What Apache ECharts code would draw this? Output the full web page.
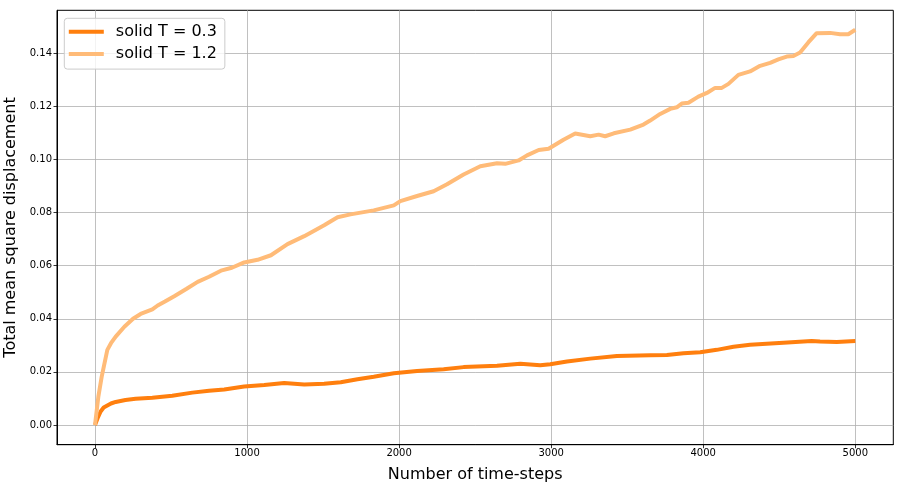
<!DOCTYPE html>
<html><head><meta charset="utf-8">
<script src="https://cdn.jsdelivr.net/npm/echarts@6/dist/echarts.min.js"></script>
<style>html,body{margin:0;padding:0;background:#fff}#c{width:903px;height:488px}</style>
</head><body><div id="c"></div>
<script>
const seriesNames = ['solid T = 0.3', 'solid T = 1.2'];
const stepsLow = [0,20,37,57,70,105,136,200,267,377,508,640,750,850,981,1113,1244,1376,1507,1616,1726,1833,1965,2118,2293,2424,2644,2797,2928,2994,3104,3257,3432,3651,3761,3870,3980,4089,4199,4308,4527,4713,4768,4878,5000];
const msdLow = [0,0.0030,0.0051,0.0066,0.0072,0.0081,0.0087,0.0094,0.0099,0.0103,0.0110,0.0122,0.0129,0.0134,0.0145,0.0151,0.0158,0.0153,0.0155,0.0161,0.0172,0.0182,0.0195,0.0203,0.0210,0.0218,0.0223,0.0231,0.0225,0.0229,0.0239,0.0250,0.0260,0.0263,0.0264,0.0270,0.0274,0.0283,0.0295,0.0302,0.0310,0.0316,0.0314,0.0313,0.0316];
const stepsHigh = [0,22,44,81,105,136,193,250,300,377,412,460,521,600,675,750,828,900,981,1069,1157,1266,1376,1507,1595,1680,1833,1965,2008,2118,2227,2315,2424,2534,2644,2698,2786,2841,2918,2983,3081,3158,3257,3312,3355,3412,3520,3607,3651,3717,3783,3826,3859,3903,3968,4024,4078,4122,4166,4231,4308,4374,4440,4494,4549,4593,4637,4691,4746,4834,4900,4954,5000];
const msdHigh = [0,0.0107,0.0182,0.0283,0.0308,0.0333,0.0370,0.0400,0.0418,0.0435,0.0450,0.0465,0.0485,0.0512,0.0539,0.0558,0.0581,0.0592,0.0612,0.0622,0.0639,0.0681,0.0711,0.0752,0.0782,0.0793,0.0808,0.0827,0.0843,0.0862,0.0880,0.0906,0.0943,0.0974,0.0985,0.0983,0.0996,0.1015,0.1035,0.1040,0.1074,0.1097,0.1087,0.1093,0.1087,0.1098,0.1112,0.1131,0.1146,0.1171,0.1190,0.1196,0.1210,0.1213,0.1236,0.1250,0.1269,0.1269,0.1284,0.1318,0.1331,0.1352,0.1363,0.1376,0.1387,0.1389,0.1402,0.1440,0.1475,0.1476,0.1471,0.1471,0.1488];
const xTicks = [0,1000,2000,3000,4000,5000];
const yTicks = [0,0.02,0.04,0.06,0.08,0.10,0.12,0.14];

const font = 'DejaVu Sans';
const pairs = (xs, ys) => xs.map((x, i) => [x, ys[i]]);
const chart = echarts.init(document.getElementById('c'), null, {renderer: 'canvas'});
chart.setOption({
  animation: false,
  backgroundColor: '#fff',
  textStyle: {fontFamily: font},
  grid: {left: 57, right: 9.7, top: 10.3, bottom: 43.3, outerBoundsMode: 'none', containLabel: false,
    show: true, borderColor: '#000', borderWidth: 1, backgroundColor: '#fff'},
  legend: {
    orient: 'vertical', left: 64.3, top: 18.3,
    padding: [4.5, 8, 6, 4.5],
    itemWidth: 35, itemHeight: 4, itemGap: 4.3,
    icon: 'rect',
    backgroundColor: 'rgba(255,255,255,0.8)',
    borderColor: '#cccccc', borderWidth: 1, borderRadius: 3,
    textStyle: {fontFamily: font, fontSize: 16, color: '#000', lineHeight: 18, padding: [0, 0, 0, 7]},
    data: seriesNames
  },
  xAxis: {
    type: 'value', min: -250, max: 5250,
    name: 'Number of time-steps', nameLocation: 'middle', nameGap: 22,
    nameTextStyle: {fontFamily: font, fontSize: 16, color: '#000'},
    axisLine: {show: true, onZero: false, lineStyle: {color: '#000', width: 1}},
    axisTick: {show: true, inside: false, length: 3.5, customValues: xTicks, lineStyle: {color: '#000', width: 0.8}},
    axisLabel: {customValues: xTicks, fontFamily: font, fontSize: 10, color: '#000', margin: 4,
      formatter: v => String(v)},
    splitLine: {show: true, lineStyle: {color: '#b0b0b0', width: 0.8}}
  },
  yAxis: {
    type: 'value', min: -0.0074, max: 0.1561,
    name: 'Total mean square displacement', nameLocation: 'middle', nameGap: 31,
    nameTextStyle: {fontFamily: font, fontSize: 16, color: '#000'},
    axisLine: {show: true, onZero: false, lineStyle: {color: '#000', width: 1}},
    axisTick: {show: true, inside: false, length: 3.5, customValues: yTicks, lineStyle: {color: '#000', width: 0.8}},
    axisLabel: {customValues: yTicks, fontFamily: font, fontSize: 10, color: '#000', margin: 5,
      formatter: v => v.toFixed(2)},
    splitLine: {show: true, lineStyle: {color: '#b0b0b0', width: 0.8}}
  },
  series: [
    {name: seriesNames[0], type: 'line', data: pairs(stepsLow, msdLow), showSymbol: false, symbol: 'none',
      lineStyle: {color: '#ff7f0e', width: 4}, itemStyle: {color: '#ff7f0e'}},
    {name: seriesNames[1], type: 'line', data: pairs(stepsHigh, msdHigh), showSymbol: false, symbol: 'none',
      lineStyle: {color: '#ffbb78', width: 4}, itemStyle: {color: '#ffbb78'}}
  ]
});
</script>
</body></html>
